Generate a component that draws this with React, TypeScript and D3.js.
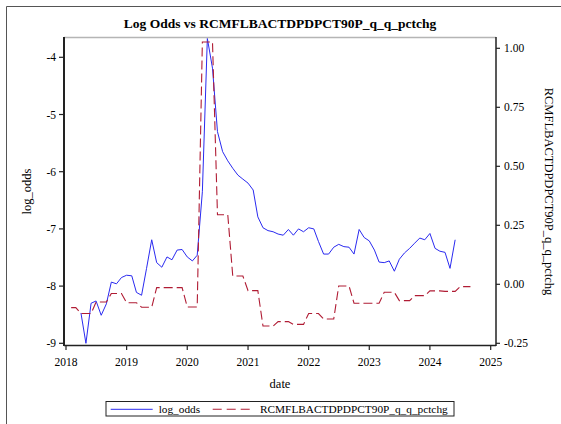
import React from "react";
import * as d3 from "d3";

// ---- data ----
const logOddsStartMonth = 3; // months after Jan 2018
const logOdds = [
  -8.47, -9.0, -8.3, -8.26, -8.51, -8.31, -7.93, -7.96, -7.85, -7.81,
  -7.82, -8.11, -8.16, -7.69, -7.19, -7.59, -7.67, -7.49, -7.54, -7.37,
  -7.36, -7.49, -7.56, -7.46, -6.35, -3.67, -4.19, -5.3, -5.65, -5.81,
  -5.94, -6.06, -6.13, -6.2, -6.32, -6.79, -6.98, -7.03, -7.05, -7.09,
  -7.11, -7.01, -7.11, -7.0, -7.05, -6.98, -7.0, -7.22, -7.44, -7.44,
  -7.32, -7.27, -7.31, -7.32, -7.44, -7.01, -7.15, -7.21, -7.37, -7.58,
  -7.59, -7.56, -7.74, -7.53, -7.42, -7.34, -7.25, -7.16, -7.19, -7.08,
  -7.34, -7.39, -7.41, -7.69, -7.19,
];
const pctchgStartMonth = 1;
const pctchg = [
  -0.099, -0.099,
  -0.124, -0.124, -0.124,
  -0.075, -0.075, -0.075,
  -0.039, -0.039, -0.039,
  -0.078, -0.078, -0.078,
  -0.097, -0.097, -0.097,
  -0.014, -0.014, -0.014,
  -0.014, -0.014, -0.014,
  -0.096, -0.096, -0.096,
  1.027, 1.027, 1.027,
  0.295, 0.295, 0.295,
  0.035, 0.035, 0.035,
  -0.027, -0.027, -0.027,
  -0.177, -0.177, -0.177,
  -0.158, -0.158, -0.158,
  -0.17, -0.17, -0.17,
  -0.124, -0.124, -0.124,
  -0.147, -0.147, -0.147,
  -0.007, -0.007, -0.007,
  -0.08, -0.08, -0.08,
  -0.08, -0.08, -0.08,
  -0.034, -0.034, -0.034,
  -0.069, -0.069, -0.069,
  -0.048, -0.048, -0.048,
  -0.028, -0.028, -0.028,
  -0.03, -0.03, -0.03,
  -0.01, -0.01, -0.01,
];
const xTickYears = [2018, 2019, 2020, 2021, 2022, 2023, 2024, 2025];
const leftTicks = [-9, -8, -7, -6, -5, -4];
const rightTicks = [-0.25, 0, 0.25, 0.5, 0.75, 1.0];
const titleText = "Log Odds vs RCMFLBACTDPDPCT90P_q_q_pctchg";
const series1Name = "log_odds";
const series2Name = "RCMFLBACTDPDPCT90P_q_q_pctchg";
const xLabel = "date";

// ---- layout ----
const W = 561;
const H = 424;
const plotL = 64;
const plotR = 496;
const plotT = 37.5;
const plotB = 345.5;
const FONT = "'Liberation Serif', 'Times New Roman', serif";
const BLUE = "#2a2af0";
const RED = "#b01c34";

export default function App() {
  const x = d3
    .scaleTime()
    .domain([new Date(2018, 0, 1), new Date(2025, 0, 1)])
    .range([66, 490.7]);
  const yL = d3.scaleLinear().domain([-9, -4]).range([343.3, 57.3]);
  const yR = d3.scaleLinear().domain([-0.25, 1.0]).range([343.3, 48.3]);

  const blueData = logOdds.map((v, i) => ({
    d: new Date(2018, logOddsStartMonth + i, 1),
    v,
  }));
  const redData = pctchg.map((v, i) => ({
    d: new Date(2018, pctchgStartMonth + i, 1),
    v,
  }));

  const blueLine = d3
    .line<{ d: Date; v: number }>()
    .x((p) => x(p.d))
    .y((p) => yL(p.v))(blueData);
  const redLine = d3
    .line<{ d: Date; v: number }>()
    .x((p) => x(p.d))
    .y((p) => yR(p.v))(redData);

  const midY = (plotT + plotB) / 2;
  const midX = (plotL + plotR) / 2;

  return (
    <svg
      width={W}
      height={H}
      style={{ position: "fixed", left: 0, top: 0, background: "#fff" }}
      fontFamily={FONT}
    >
      <rect x={0} y={0} width={W} height={H} fill="#fff" />
      {/* outer figure border (top & left visible) */}
      <line x1={6.5} y1={6.5} x2={W} y2={6.5} stroke="#555" strokeWidth={1} />
      <line x1={6.5} y1={6.5} x2={6.5} y2={H} stroke="#555" strokeWidth={1} />

      <text
        x={midX}
        y={28}
        textAnchor="middle"
        fontSize={13.5}
        fontWeight="bold"
        fill="#000"
      >
        {titleText}
      </text>

      {/* series */}
      <path d={blueLine || ""} fill="none" stroke={BLUE} strokeWidth={1} />
      <path
        d={redLine || ""}
        fill="none"
        stroke={RED}
        strokeWidth={1.1}
        strokeDasharray="9,4"
      />

      {/* frame */}
      <line x1={plotL} y1={plotT} x2={plotR} y2={plotT} stroke="#b5b5b5" strokeWidth={1.5} />
      <line x1={plotL} y1={plotT - 0.5} x2={plotL} y2={plotB + 0.5} stroke="#222" strokeWidth={2} />
      <line x1={plotR} y1={plotT - 0.5} x2={plotR} y2={plotB + 0.5} stroke="#222" strokeWidth={1.5} />
      <line x1={plotL} y1={plotB} x2={plotR} y2={plotB} stroke="#222" strokeWidth={1.5} />

      {/* left ticks */}
      {leftTicks.map((t) => (
        <g key={"l" + t}>
          <line x1={plotL - 5} x2={plotL} y1={yL(t)} y2={yL(t)} stroke="#222" strokeWidth={1.2} />
          <text x={plotL - 8} y={yL(t) + 4} textAnchor="end" fontSize={11.5} fill="#000">
            {d3.format("d")(t).replace("−", "-")}
          </text>
        </g>
      ))}

      {/* right ticks */}
      {rightTicks.map((t) => (
        <g key={"r" + t}>
          <line x1={plotR} x2={plotR + 4} y1={yR(t)} y2={yR(t)} stroke="#222" strokeWidth={1.2} />
          <text x={plotR + 8} y={yR(t) + 4} textAnchor="start" fontSize={11.5} fill="#000">
            {d3.format(".2f")(t).replace("−", "-")}
          </text>
        </g>
      ))}

      {/* bottom ticks */}
      {xTickYears.map((yr) => {
        const px = x(new Date(yr, 0, 1));
        return (
          <g key={"x" + yr}>
            <line x1={px} x2={px} y1={plotB} y2={plotB + 4.5} stroke="#222" strokeWidth={1.2} />
            <text x={px} y={366} textAnchor="middle" fontSize={11.5} fill="#000">
              {yr}
            </text>
          </g>
        );
      })}

      {/* axis labels */}
      <text x={midX} y={388} textAnchor="middle" fontSize={12.5} fill="#000">
        {xLabel}
      </text>
      <text
        transform={`translate(31,${midY}) rotate(-90)`}
        textAnchor="middle"
        fontSize={12.5}
        fill="#000"
      >
        {series1Name}
      </text>
      <text
        transform={`translate(545,${midY}) rotate(90)`}
        textAnchor="middle"
        fontSize={12.5}
        fill="#000"
      >
        {series2Name}
      </text>

      {/* legend */}
      <rect x={106} y={401.5} width={348} height={14.5} fill="#fff" stroke="#222" strokeWidth={1} />
      <line x1={110.7} x2={152.7} y1={409.3} y2={409.3} stroke={BLUE} strokeWidth={1} />
      <text x={158.7} y={413.3} fontSize={11.3} fill="#000">
        {series1Name}
      </text>
      <line
        x1={212.7}
        x2={250.7}
        y1={409.3}
        y2={409.3}
        stroke={RED}
        strokeWidth={1.1}
        strokeDasharray="9,5"
      />
      <text x={260} y={413.3} fontSize={11.3} fill="#000">
        {series2Name}
      </text>
    </svg>
  );
}
